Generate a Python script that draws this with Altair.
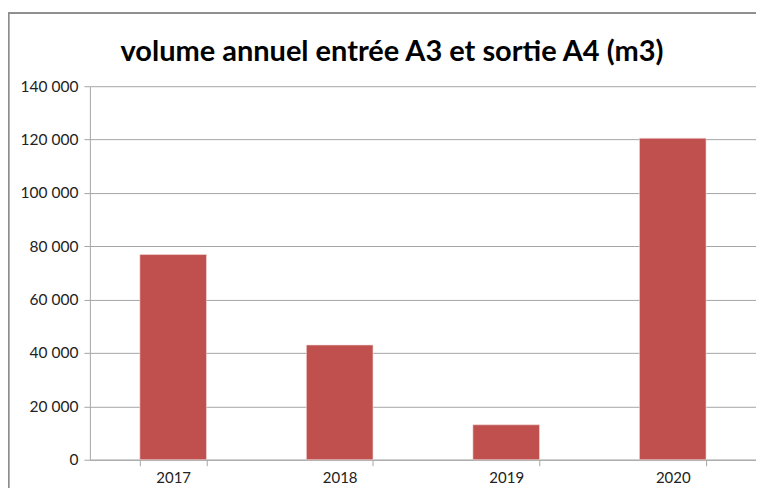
import altair as alt
import pandas as pd

years = ["2017", "2018", "2019", "2020"]
volumes = [76900, 43000, 13100, 120500]
title_text = "volume annuel entrée A3 et sortie A4 (m3)"

df = pd.DataFrame({"annee": years, "volume": volumes})

W, H = 667, 374
FONT = "Lato"

bars = alt.Chart(df).mark_bar(color="#C0504D", stroke="#F2DCDB", strokeWidth=0.6).encode(
    x=alt.X(
        "annee:N",
        sort=years,
        title=None,
        scale=alt.Scale(paddingInner=0.6, paddingOuter=0.3),
        axis=alt.Axis(
            labelAngle=0,
            tickBand="extent",
            tickSize=6,
            tickColor="#a6a6a6",
            domainColor="#a6a6a6",
            labelPadding=5,
            labelFontSize=15,
            labelFont=FONT,
            labelColor="#222222",
            grid=False,
        ),
    ),
    y=alt.Y(
        "volume:Q",
        title=None,
        scale=alt.Scale(domain=[0, 140000]),
        axis=alt.Axis(
            values=[0, 20000, 40000, 60000, 80000, 100000, 120000, 140000],
            labelExpr="replace(format(datum.value, ','), ',', ' ')",
            tickSize=6,
            tickColor="#a6a6a6",
            domainColor="#a6a6a6",
            gridColor="#a6a6a6",
            labelPadding=6,
            labelFontSize=15.5,
            labelFont=FONT,
            labelColor="#222222",
        ),
    ),
)

frame_top = alt.Chart(df).mark_rule(color="#8c8c8c", strokeWidth=1.5).encode(
    x=alt.value(-82), x2=alt.value(W + 20), y=alt.value(-73)
)
frame_left = alt.Chart(df).mark_rule(color="#8c8c8c", strokeWidth=1.5).encode(
    x=alt.value(-81.5), y=alt.value(-73), y2=alt.value(H + 40)
)
title = alt.Chart(df.head(1)).mark_text(
    font=FONT, fontSize=29, fontWeight="bold", color="#000000",
    align="center", baseline="alphabetic",
).encode(x=alt.value(W / 2 - 31), y=alt.value(-25), text=alt.value(title_text))

chart = (
    alt.layer(frame_top, frame_left, title, bars)
    .properties(
        width=W,
        height=H,
        padding={"left": 82, "top": 78, "right": 0, "bottom": 28},
        autosize=alt.AutoSizeParams(type="none"),
    )
    .configure_view(stroke=None)
    .configure_axis(domainWidth=1, gridWidth=1)
)

chart.save("out.html", embed_options={"renderer": "svg", "actions": False})
